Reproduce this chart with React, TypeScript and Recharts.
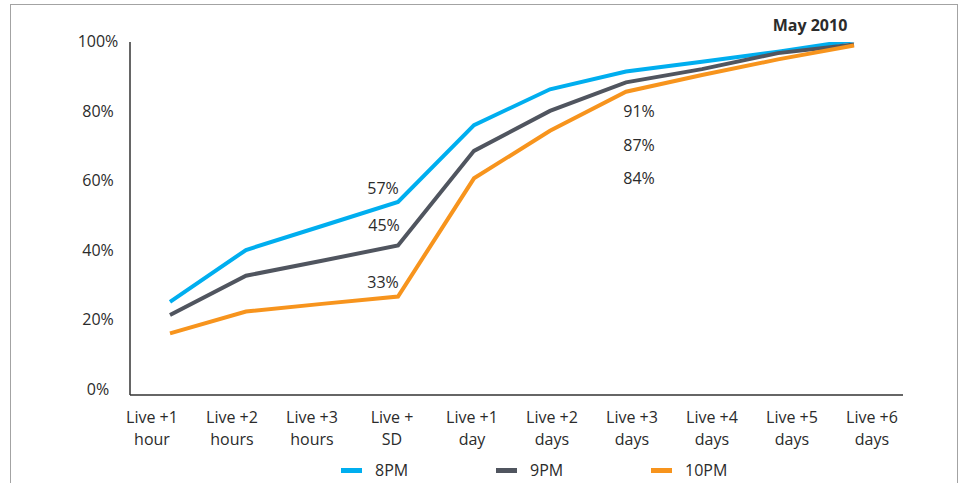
import { LineChart, Line, XAxis, YAxis } from 'recharts';

const stages = [
  'Live +1\nhour',
  'Live +2\nhours',
  'Live +3\nhours',
  'Live +\nSD',
  'Live +1\nday',
  'Live +2\ndays',
  'Live +3\ndays',
  'Live +4\ndays',
  'Live +5\ndays',
  'Live +6\ndays',
];

const pm8 = [25.3, 40.2, 47.1, 54.0, 76.1, 86.4, 91.5, 94.3, 97.2, 100.5];
const pm9 = [21.5, 32.8, 37.1, 41.5, 68.7, 80.2, 88.4, 92.2, 96.8, 99.3];
const pm10 = [16.2, 22.5, 24.7, 26.8, 60.8, 74.5, 85.7, 90.5, 95.0, 99.0];

const notes8 = ['', '', '', '57%', '', '', '91%', '', '', ''];
const notes9 = ['', '', '', '45%', '', '', '87%', '', '', ''];
const notes10 = ['', '', '', '33%', '', '', '84%', '', '', ''];

const yTicks = [0, 20, 40, 60, 80, 100];

const data = stages.map((stage, i) => ({
  stage,
  pm8: pm8[i],
  pm9: pm9[i],
  pm10: pm10[i],
}));

const FONT = '"Open Sans", sans-serif';
const TEXT = '#2b2b2b';

const series = [
  { key: 'pm8', name: '8PM', color: '#00AEEF', notes: notes8, off: [[-15, -13], [13, 40]] },
  { key: 'pm9', name: '9PM', color: '#50555F', notes: notes9, off: [[-14, -20], [13, 63]] },
  { key: 'pm10', name: '10PM', color: '#F7941D', notes: notes10, off: [[-15, -14], [13, 87]] },
];

const XTick = ({ x, y, payload }: any) => {
  const lines = String(payload.value).split('\n');
  return (
    <text x={x} y={y} textAnchor="middle" fill={TEXT} fontSize={16} fontFamily={FONT}>
      <tspan x={x} dy={28}>{lines[0]}</tspan>
      <tspan x={x} dy={22}>{lines[1]}</tspan>
    </text>
  );
};

const YTick = ({ x, y, payload }: any) => (
  <text x={x - 32} y={y} dy={5} textAnchor="middle" fill={TEXT} fontSize={16} fontFamily={FONT}>
    {payload.value}%
  </text>
);

const makeNote = (notes: string[], off: number[][]) => (props: any) => {
  const { x, y, index } = props;
  const txt = notes[index];
  if (!txt) return null;
  const [dx, dy] = index < 5 ? off[0] : off[1];
  return (
    <text
      x={x + dx}
      y={y + dy}
      dy={5.5}
      textAnchor="middle"
      fill={TEXT}
      fontSize={16}
      fontFamily={FONT}
    >
      {txt}
    </text>
  );
};

export default function App() {
  return (
    <div style={{ position: 'absolute', left: 0, top: 0, width: 961, height: 483, overflow: 'hidden', background: '#fff' }}>
      <div
        style={{
          position: 'absolute',
          left: 10,
          top: 4,
          width: 946,
          height: 520,
          border: '1.5px solid #a3a3a3',
        }}
      />
      <LineChart
        width={961}
        height={483}
        data={data}
        margin={{ top: 42, right: 58, bottom: 28, left: 70 }}
        style={{ position: 'absolute', left: 0, top: 0 }}
      >
        <XAxis xAxisId="pts" dataKey="stage" hide height={0} padding={{ left: 40, right: 49 }} />
        <XAxis
          xAxisId="ticks"
          dataKey="stage"
          interval={0}
          height={60}
          padding={{ left: 22, right: 31 }}
          tickLine={false}
          tickSize={0}
          tickMargin={0}
          axisLine={{ stroke: '#333', strokeWidth: 1.5 }}
          tick={<XTick />}
        />
        <YAxis
          width={60}
          domain={[-1.5, 100]}
          ticks={yTicks}
          allowDataOverflow
          tickLine={false}
          tickSize={0}
          tickMargin={0}
          axisLine={{ stroke: '#333', strokeWidth: 1.5 }}
          tick={<YTick />}
        />
        {series.map((s) => (
          <Line
            key={s.key}
            xAxisId="pts"
            type="linear"
            dataKey={s.key}
            name={s.name}
            stroke={s.color}
            strokeWidth={4}
            dot={false}
            activeDot={false}
            isAnimationActive={false}
            label={makeNote(s.notes, s.off)}
          />
        ))}
      </LineChart>
      <div
        style={{
          position: 'absolute',
          left: 760,
          top: 15,
          width: 100,
          textAlign: 'center',
          fontFamily: FONT,
          fontWeight: 700,
          fontSize: 16,
          lineHeight: '20px',
          color: TEXT,
        }}
      >
        May 2010
      </div>
      <div
        style={{
          position: 'absolute',
          left: 341,
          top: 460,
          display: 'flex',
          fontFamily: FONT,
          fontSize: 16,
          lineHeight: '20px',
          color: TEXT,
        }}
      >
        {series.map((s) => (
          <div key={s.key} style={{ width: 155, display: 'flex', alignItems: 'center' }}>
            <span style={{ display: 'inline-block', width: 21, height: 5, background: s.color, marginRight: 13 }} />
            <span>{s.name}</span>
          </div>
        ))}
      </div>
    </div>
  );
}
